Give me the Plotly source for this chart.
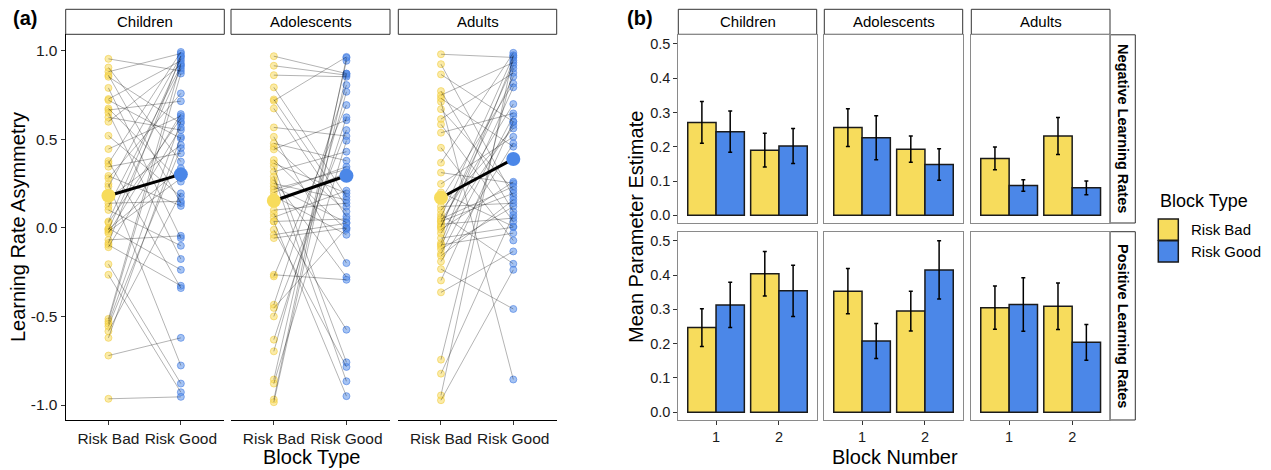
import plotly.graph_objects as go

W, H = 1271, 470
def px(x): return x / W
def py(y): return 1 - y / H

FONT = "Liberation Sans, Arial, sans-serif"
YELLOW = "#F7DC5C"
BLUE = "#4B87E8"
YELLOW_PT = "rgba(247,215,80,0.50)"
BLUE_PT = "rgba(75,135,232,0.50)"

groups = ["Children", "Adolescents", "Adults"]
block_types = ["Risk Bad", "Risk Good"]
blocks = [1, 2]
rows = ["Negative Learning Rates", "Positive Learning Rates"]

# ---------------- Panel (a): individual learning-rate asymmetry (paired by index) ----------------
children_bad = [0.954, 0.905, 0.881, 0.862, 0.853, 0.79, 0.727, 0.721, 0.674, 0.665, 0.65, 0.624, 0.599,
                0.52, 0.445, 0.377, 0.364, 0.345, 0.293, 0.28, 0.248, 0.233, 0.167, 0.139, 0.12, 0.101,
                0.03, -0.008, 0.036, -0.002, -0.011, -0.021, -0.03, -0.068, -0.086, -0.096, -0.109,
                -0.205, -0.265, -0.514, -0.528, -0.541, -0.556, -0.584, -0.621, -0.721, -0.965]
children_good = [0.886, 0.374, 0.984, 0.139, 0.59, -0.058, 0.943, 0.505, 0.261, 0.715, -0.176, 0.552, 0.92,
                 0.176, 0.631, -0.34, 0.993, 0.421, 0.124, 0.759, -0.777, 0.97, 0.468, 0.15, 0.913, -0.101,
                 0.618, 0.336, 0.956, -0.237, 0.9, 0.28, 0.642, -0.045, 0.969, -0.327, 0.567, -0.879,
                 -0.928, 0.928, 0.871, 0.60, 0.45, 0.195, 0.514, -0.621, -0.954]

adolescents_bad = [0.969, 0.915, 0.862, 0.793, 0.725, 0.717, 0.674, 0.567, 0.514, 0.477, 0.458, 0.443,
                   0.383, 0.364, 0.345, 0.317, 0.27, 0.233, 0.218, 0.29, 0.25, 0.2, 0.18, 0.14, 0.1, 0.08,
                   0.06, 0.036, -0.011, 0.036, -0.039, -0.058, -0.265, -0.274, -0.434, -0.452, -0.5,
                   -0.631, -0.697, -0.856, -0.879, -0.969, -0.984]
adolescents_good = [0.871, 0.862, 0.853, 0.176, 0.12, 0.965, 0.064, 0.518, -0.199, 0.379, 0.092, 0.608,
                    -0.011, 0.195, -0.759, 0.43, -0.278, 0.03, 0.33, -0.866, 0.158, 0.345, -0.039, 0.31,
                    0.139, -0.575, 0.21, 0.05, -0.785, -0.95, 0.026, 0.0, -0.293, 0.693, 0.806, -0.002,
                    0.552, 0.624, 0.768, 0.943, 0.492, 0.96, 0.87]

adults_bad = [0.98, 0.924, 0.866, 0.772, 0.749, 0.731, 0.712, 0.67, 0.614, 0.584, 0.537, 0.452, 0.368,
              0.312, 0.248, 0.2, 0.16, 0.12, 0.1, 0.077, 0.06, 0.05, 0.036, 0.02, 0.004, 0.036, 0.008,
              -0.01, -0.03, -0.058, -0.086, -0.096, -0.105, -0.12, -0.146, -0.158, -0.19, -0.233,
              -0.297, -0.364, -0.744, -0.823, -0.946, -0.973]
adults_good = [0.962, 0.176, 0.599, 0.092, 0.933, 0.458, -0.856, 0.214, 0.875, 0.036, 0.646, -0.071,
               0.988, 0.252, 0.514, 0.008, 0.815, 0.139, 0.561, -0.203, 0.97, 0.233, 0.699, 0.055, 0.918,
               0.195, 0.853, 0.26, 0.58, 0.004, 0.946, -0.03, 0.793, 0.12, 0.631, 0.158, 0.477, -0.458,
               0.6, -0.133, 0.9, 0.073, 0.975, -0.237]

group_means = {
    "Children": [0.181, 0.302],
    "Adolescents": [0.153, 0.294],
    "Adults": [0.170, 0.389],
}
asym_data = {
    "Children": (children_bad, children_good),
    "Adolescents": (adolescents_bad, adolescents_good),
    "Adults": (adults_bad, adults_good),
}

# ---------------- Panel (b): mean parameter estimates ----------------
# values indexed [block1, block2]
neg_bad = {"Children": [0.271, 0.190], "Adolescents": [0.256, 0.193], "Adults": [0.166, 0.231]}
neg_bad_se = {"Children": [0.061, 0.049], "Adolescents": [0.055, 0.038], "Adults": [0.033, 0.054]}
neg_good = {"Children": [0.244, 0.202], "Adolescents": [0.226, 0.148], "Adults": [0.087, 0.080]}
neg_good_se = {"Children": [0.060, 0.051], "Adolescents": [0.064, 0.046], "Adults": [0.017, 0.020]}
pos_bad = {"Children": [0.247, 0.404], "Adolescents": [0.353, 0.295], "Adults": [0.305, 0.309]}
pos_bad_se = {"Children": [0.055, 0.065], "Adolescents": [0.066, 0.058], "Adults": [0.063, 0.068]}
pos_good = {"Children": [0.313, 0.354], "Adolescents": [0.208, 0.415], "Adults": [0.314, 0.204]}
pos_good_se = {"Children": [0.066, 0.075], "Adolescents": [0.051, 0.085], "Adults": [0.078, 0.052]}

fig = go.Figure()
layout = dict(
    width=W, height=H, autosize=False,
    margin=dict(l=0, r=0, t=0, b=0),
    paper_bgcolor="white", plot_bgcolor="white",
    font=dict(family=FONT, color="#1a1a1a"),
    showlegend=False, barmode="group", bargap=0.1, bargroupgap=0,
)
shapes = []
annotations = []

def strip(x0, y0, x1, y1):
    shapes.append(dict(type="rect", xref="paper", yref="paper",
                       x0=px(x0), x1=px(x1), y0=py(y1), y1=py(y0),
                       line=dict(color="#333333", width=1), fillcolor="white", layer="below"))

def text(x, y, s, size, angle=0, xanchor="center", yanchor="middle", bold=False):
    annotations.append(dict(xref="paper", yref="paper", x=px(x), y=py(y), text=f"<b>{s}</b>" if bold else s,
                            showarrow=False, textangle=angle, xanchor=xanchor, yanchor=yanchor,
                            font=dict(family=FONT, size=size, color="#000000")))

# ---- panel (a) ----
a_cols = [(65.7, 224.3), (231.0, 390.0), (398.3, 556.7)]
a_top, a_bot = 34.3, 420.0
for i, g in enumerate(groups):
    ax = i + 1
    xs = "x" if ax == 1 else f"x{ax}"
    ys = "y" if ax == 1 else f"y{ax}"
    bad, good = asym_data[g]
    lx, ly = [], []
    for b, gd in zip(bad, good):
        lx += [1, 2, None]
        ly += [b, gd, None]
    fig.add_trace(go.Scatter(x=[1] * len(bad), y=bad, mode="markers", xaxis=xs, yaxis=ys,
                             marker=dict(size=7, color=YELLOW_PT, line=dict(width=1, color="rgba(240,205,70,0.6)"))))
    fig.add_trace(go.Scatter(x=[2] * len(good), y=good, mode="markers", xaxis=xs, yaxis=ys,
                             marker=dict(size=7, color=BLUE_PT, line=dict(width=1, color="rgba(70,125,225,0.6)"))))
    fig.add_trace(go.Scatter(x=lx, y=ly, mode="lines", xaxis=xs, yaxis=ys,
                             line=dict(color="rgba(0,0,0,0.5)", width=0.6), connectgaps=False))
    fig.add_trace(go.Scatter(x=[1, 2], y=group_means[g], mode="lines", xaxis=xs, yaxis=ys,
                             line=dict(color="black", width=3)))
    fig.add_trace(go.Scatter(x=[1, 2], y=group_means[g], mode="markers", xaxis=xs, yaxis=ys,
                             marker=dict(size=14, color=[YELLOW, BLUE], line=dict(width=0))))
    x0, x1 = a_cols[i]
    xk = "xaxis" if ax == 1 else f"xaxis{ax}"
    yk = "yaxis" if ax == 1 else f"yaxis{ax}"
    layout[xk] = dict(domain=[px(x0), px(x1)], anchor=ys, range=[0.41, 2.6],
                      tickvals=[1, 2], ticktext=block_types, showline=True, linecolor="black", linewidth=1.2,
                      ticks="outside", ticklen=4, tickcolor="#333333", showgrid=False, zeroline=False,
                      tickfont=dict(size=15.5, color="#1a1a1a"), fixedrange=True)
    ydict = dict(domain=[py(a_bot), py(a_top)], anchor=xs, range=[-1.0847, 1.0926],
                 showgrid=False, zeroline=False, fixedrange=True)
    if ax == 1:
        ydict.update(showline=True, linecolor="black", linewidth=1.2, ticks="outside", ticklen=4,
                     tickcolor="#333333", tickvals=[-1, -0.5, 0, 0.5, 1],
                     ticktext=["-1.0", "-0.5", "0.0", "0.5", "1.0"], tickfont=dict(size=15.5, color="#1a1a1a"))
    else:
        ydict.update(showline=False, showticklabels=False, ticks="")
    layout[yk] = ydict
    strip(x0, 9.3, x1, 34.3)
    text((x0 + x1) / 2, 21.8, g, 15)

# ---- panel (b) ----
b_cols = [(678.3, 816.7), (824.3, 962.7), (971.3, 1110.0)]
b_rows = [(34.8, 223.0), (231.7, 420.0)]
row_data = [(neg_bad, neg_bad_se, neg_good, neg_good_se), (pos_bad, pos_bad_se, pos_good, pos_good_se)]
ax = 4
for r in range(2):
    vb, sb, vg, sg = row_data[r]
    for c, g in enumerate(groups):
        xs, ys = f"x{ax}", f"y{ax}"
        fig.add_trace(go.Bar(x=blocks, y=vb[g], xaxis=xs, yaxis=ys, offsetgroup="bad",
                             marker=dict(color=YELLOW, line=dict(color="#1a1a1a", width=1.5)),
                             error_y=dict(type="data", array=sb[g], color="black", thickness=1.5, width=2)))
        fig.add_trace(go.Bar(x=blocks, y=vg[g], xaxis=xs, yaxis=ys, offsetgroup="good",
                             marker=dict(color=BLUE, line=dict(color="#1a1a1a", width=1.5)),
                             error_y=dict(type="data", array=sg[g], color="black", thickness=1.5, width=2)))
        x0, x1 = b_cols[c]
        y0, y1 = b_rows[r]
        xd = dict(domain=[px(x0), px(x1)], anchor=ys, range=[0.4, 2.6], showline=True, mirror=True,
                  linecolor="#8a8a8a", linewidth=1, showgrid=False, zeroline=False, fixedrange=True)
        if r == 1:
            xd.update(tickvals=blocks, ticktext=[str(b) for b in blocks], ticks="outside", ticklen=4,
                      tickcolor="#333333", tickfont=dict(size=14.5, color="#1a1a1a"))
        else:
            xd.update(showticklabels=False, ticks="")
        yd = dict(domain=[py(y1), py(y0)], anchor=xs, range=[-0.0225, 0.5265], showline=True, mirror=True,
                  linecolor="#8a8a8a", linewidth=1, showgrid=False, zeroline=False, fixedrange=True)
        if c == 0:
            yd.update(tickvals=[0, 0.1, 0.2, 0.3, 0.4, 0.5], ticktext=["0.0", "0.1", "0.2", "0.3", "0.4", "0.5"],
                      ticks="outside", ticklen=4, tickcolor="#333333", tickfont=dict(size=14.5, color="#1a1a1a"))
        else:
            yd.update(showticklabels=False, ticks="")
        layout[f"xaxis{ax}"] = xd
        layout[f"yaxis{ax}"] = yd
        if r == 0:
            strip(x0, 9.3, x1, 34.3)
            text((x0 + x1) / 2, 21.8, g, 15)
        ax += 1
    y0, y1 = b_rows[r]
    strip(1110.0, y0, 1135.3, y1)
    text(1122.8, (y0 + y1) / 2, rows[r], 14.5, angle=90, bold=True)

# ---- titles and labels ----
text(25, 18, "(a)", 20, bold=True)
text(640, 18, "(b)", 20, bold=True)
text(18, 227, "Learning Rate Asymmetry", 20, angle=-90)
text(311, 457, "Block Type", 20)
text(636, 227, "Mean Parameter Estimate", 20, angle=-90)
text(895, 457, "Block Number", 20)

# ---- legend ----
text(1157.5, 201, "Block Type", 18, xanchor="left")
for k, (lab, col) in enumerate(zip(block_types, [YELLOW, BLUE])):
    top = 219.0 + k * 21.8
    shapes.append(dict(type="rect", xref="paper", yref="paper", x0=px(1158.3), x1=px(1178.3),
                       y0=py(top + 21.3), y1=py(top), fillcolor=col, line=dict(color="#1a1a1a", width=1.5)))
    text(1189.3, top + 10.7, lab, 15, xanchor="left")

layout["shapes"] = shapes
layout["annotations"] = annotations
fig.update_layout(**layout)
fig.write_html("out.html", config={"displayModeBar": False},
               post_script="document.body.style.margin='0';document.body.style.overflow='hidden';")
